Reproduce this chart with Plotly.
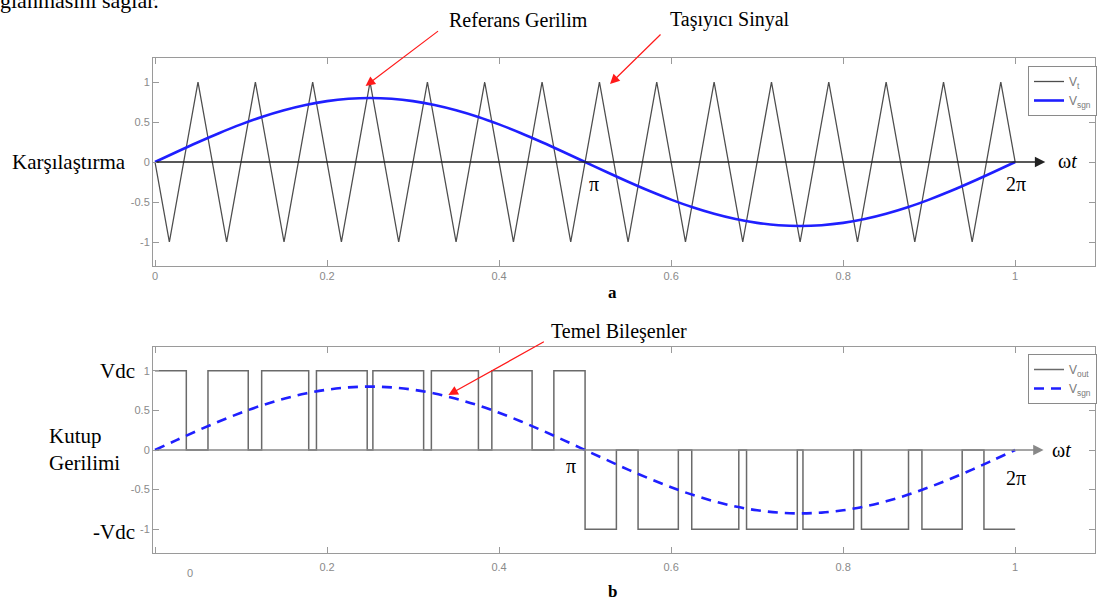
import plotly.graph_objects as go

# ---------------- data ----------------
carrier_x = [0, 0.0167, 0.05, 0.0833, 0.1167, 0.15, 0.1833, 0.2167, 0.25, 0.2833,
             0.3167, 0.35, 0.3833, 0.4167, 0.45, 0.4833, 0.5167, 0.55, 0.5833, 0.6167,
             0.65, 0.6833, 0.7167, 0.75, 0.7833, 0.8167, 0.85, 0.8833, 0.9167, 0.95,
             0.9833, 1.0]
carrier_y = [0, -1, 1, -1, 1, -1, 1, -1, 1, -1,
             1, -1, 1, -1, 1, -1, 1, -1, 1, -1,
             1, -1, 1, -1, 1, -1, 1, -1, 1, -1,
             1, 0]

ref_x = [0, 0.025, 0.05, 0.075, 0.1, 0.125, 0.15, 0.175, 0.2, 0.225,
         0.25, 0.275, 0.3, 0.325, 0.35, 0.375, 0.4, 0.425, 0.45, 0.475,
         0.5, 0.525, 0.55, 0.575, 0.6, 0.625, 0.65, 0.675, 0.7, 0.725,
         0.75, 0.775, 0.8, 0.825, 0.85, 0.875, 0.9, 0.925, 0.95, 0.975, 1.0]
ref_y = [0, 0.125, 0.247, 0.363, 0.470, 0.566, 0.647, 0.713, 0.761, 0.790,
         0.8, 0.790, 0.761, 0.713, 0.647, 0.566, 0.470, 0.363, 0.247, 0.125,
         0, -0.125, -0.247, -0.363, -0.470, -0.566, -0.647, -0.713, -0.761, -0.790,
         -0.8, -0.790, -0.761, -0.713, -0.647, -0.566, -0.470, -0.363, -0.247, -0.125, 0]

vout_x = [0, 0.0364, 0.0616, 0.1084, 0.1240, 0.1787, 0.1877, 0.2467, 0.2533, 0.3123,
          0.3213, 0.3760, 0.3916, 0.4384, 0.4637, 0.5, 0.5364, 0.5616, 0.6084, 0.6240,
          0.6787, 0.6877, 0.7467, 0.7533, 0.8123, 0.8213, 0.8760, 0.8916, 0.9384, 0.9637, 1.0]
vout_y = [1, 0, 1, 0, 1, 0, 1, 0, 1, 0,
          1, 0, 1, 0, 1, -1, 0, -1, 0, -1,
          0, -1, 0, -1, 0, -1, 0, -1, 0, -1, -1]

x_tickvals = [0, 0.2, 0.4, 0.6, 0.8, 1]
x_ticktext_top = ["0", "0.2", "0.4", "0.6", "0.8", "1"]
x_ticktext_bot = ["", "0.2", "0.4", "0.6", "0.8", "1"]
y_tickvals = [-1, -0.5, 0, 0.5, 1]
y_ticktext = ["-1", "-0.5", "0", "0.5", "1"]

# ---------------- geometry helpers ----------------
W, H = 1097, 601
ML, MR, MT, MB = 153, 0, 58, 48
PW = W - ML - MR
PH = H - MT - MB


def px(x):
    return (x - ML) / PW


def py(y):
    return (H - MB - y) / PH


SERIF = "Liberation Serif, Times New Roman, serif"
SANS = "Liberation Sans, Arial, sans-serif"
GRAY_AX = "#9a9a9a"
TICKFONT = dict(family=SANS, size=11, color="#8a8a8a")
BLUE = "#1f1fff"

fig = go.Figure()

fig.add_trace(go.Scatter(x=carrier_x, y=carrier_y, mode="lines", name="V<sub>t</sub>",
                         line=dict(color="#4d4d4d", width=1.3), xaxis="x", yaxis="y",
                         legend="legend"))
fig.add_trace(go.Scatter(x=ref_x, y=ref_y, mode="lines", name="V<sub>sgn</sub>",
                         line=dict(color=BLUE, width=2.6, shape="spline"), xaxis="x", yaxis="y",
                         legend="legend"))
fig.add_trace(go.Scatter(x=vout_x, y=vout_y, mode="lines", name="V<sub>out</sub>",
                         line=dict(color="#6a6a6a", width=1.5, shape="hv"), xaxis="x2", yaxis="y2",
                         legend="legend2"))
fig.add_trace(go.Scatter(x=ref_x, y=ref_y, mode="lines", name="V<sub>sgn</sub>",
                         line=dict(color=BLUE, width=2.6, shape="spline", dash="10px,7px"),
                         xaxis="x2", yaxis="y2", legend="legend2"))

xr = [-2 / 862, (W - MR - 155) / 862]
top_dom = [py(266), py(58)]
bot_dom = [py(553), py(347)]

axis_common = dict(showline=True, linecolor=GRAY_AX, linewidth=1, mirror="ticks",
                   ticks="inside", ticklen=6, tickcolor=GRAY_AX, tickwidth=1,
                   showgrid=False, zeroline=False, tickfont=TICKFONT)

LEGFONT = dict(family=SANS, size=12, color="#7a7a7a")

fig.update_layout(
    width=W, height=H,
    margin=dict(l=ML, r=MR, t=MT, b=MB),
    paper_bgcolor="white", plot_bgcolor="white",
    xaxis=dict(domain=[0, 1], range=xr, anchor="y", tickmode="array",
               tickvals=x_tickvals, ticktext=x_ticktext_top, **axis_common),
    yaxis=dict(domain=top_dom, range=[-1.3, 1.3], anchor="x", tickmode="array",
               tickvals=y_tickvals, ticktext=y_ticktext, **axis_common),
    xaxis2=dict(domain=[0, 1], range=xr, anchor="y2", tickmode="array",
                tickvals=x_tickvals, ticktext=x_ticktext_bot, ticklabelstandoff=4, **axis_common),
    yaxis2=dict(domain=bot_dom, range=[-1.3, 1.3], anchor="x2", tickmode="array",
                tickvals=y_tickvals, ticktext=y_ticktext, **axis_common),
    legend=dict(x=px(1030), y=py(66), xanchor="left", yanchor="top",
                bordercolor="#8a8a8a", borderwidth=1, bgcolor="white",
                font=LEGFONT, itemwidth=30, tracegroupgap=0),
    legend2=dict(x=px(1030), y=py(354), xanchor="left", yanchor="top",
                 bordercolor="#8a8a8a", borderwidth=1, bgcolor="white",
                 font=LEGFONT, itemwidth=30, tracegroupgap=0),
    showlegend=True,
)

ann = []

# axis arrows (omega t)
ann.append(dict(x=1.035, y=0, xref="x", yref="y", ax=0, ay=0, axref="x", ayref="y",
                text="", showarrow=True, arrowhead=2, arrowsize=1.3, arrowwidth=1.6,
                arrowcolor="#222222", standoff=0))
ann.append(dict(x=1.033, y=0, xref="x2", yref="y2", ax=0, ay=0, axref="x2", ayref="y2",
                text="", showarrow=True, arrowhead=2, arrowsize=1.3, arrowwidth=1.6,
                arrowcolor="#888888", standoff=0))


def txt(x, y, s, size=20, bold=False, xanchor="center", yanchor="middle", align="center", color="black"):
    if bold:
        s = "<b>" + s + "</b>"
    ann.append(dict(x=px(x), y=py(y), xref="paper", yref="paper", text=s, showarrow=False,
                    xanchor=xanchor, yanchor=yanchor, align=align,
                    font=dict(family=SERIF, size=size, color=color)))


def red_arrow(tx, ty, hx, hy):
    ann.append(dict(x=px(hx), y=py(hy), xref="paper", yref="paper", ax=tx - hx, ay=ty - hy,
                    axref="pixel", ayref="pixel", text="", showarrow=True, arrowhead=2,
                    arrowsize=1.6, arrowwidth=1.2, arrowcolor="#ff1a1a", standoff=0))


# partial text at top-left (cut off by the image edge)
txt(-2, 15, "ğlanmasını sağlar.", size=22, xanchor="left", yanchor="bottom")

txt(519, 20, "Referans Gerilim", size=20)
txt(731, 20, "Taşıyıcı Sinyal", size=20)
txt(620, 331, "Temel Bileşenler", size=20)
red_arrow(440, 30, 366, 86)
red_arrow(663, 33, 611, 84)
red_arrow(546, 341, 449, 395)

txt(128, 162, "Karşılaştırma", size=21, xanchor="right")
txt(137, 371, "Vdc", size=21, xanchor="right")
txt(137, 532, "-Vdc", size=21, xanchor="right")
txt(47, 449, "Kutup<br>Gerilimi", size=21, xanchor="left", align="left")

txt(1069, 161, "ω<i>t</i>", size=20)
txt(1063, 450, "ω<i>t</i>", size=20)
txt(595, 184, "π", size=20)
txt(1018, 184, "2π", size=20)
txt(572, 466, "π", size=20)
txt(1018, 478, "2π", size=20)

txt(613, 292, "a", size=17, bold=True)
txt(613, 591, "b", size=17, bold=True)

# misplaced '0' tick label of the lower axis
ann.append(dict(x=px(190), y=py(573), xref="paper", yref="paper", text="0", showarrow=False,
                xanchor="center", yanchor="middle",
                font=dict(family=SANS, size=11, color="#8a8a8a")))

fig.update_layout(annotations=ann)

fig.write_html("out.html")
